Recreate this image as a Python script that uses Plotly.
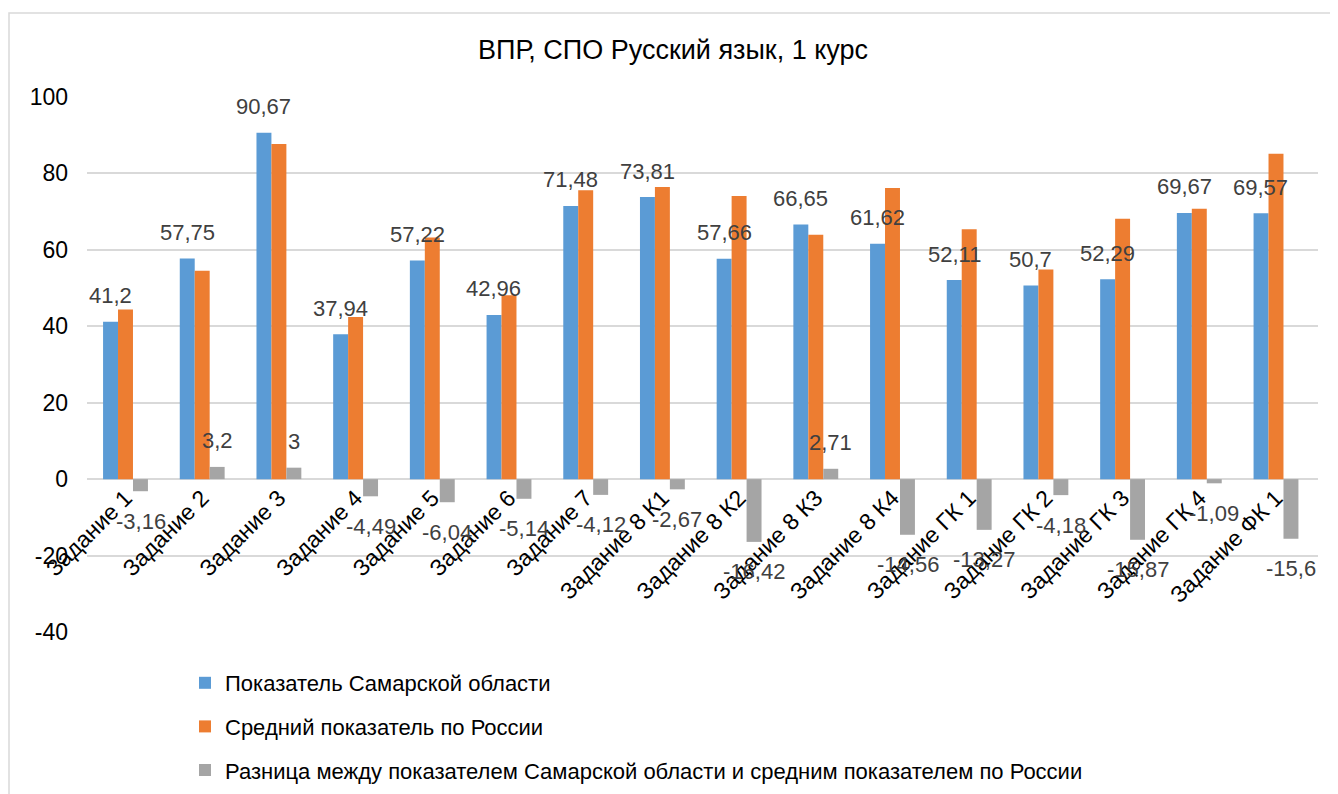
import plotly.graph_objects as go

categories = ['Задание 1', 'Задание 2', 'Задание 3', 'Задание 4', 'Задание 5', 'Задание 6',
              'Задание 7', 'Задание 8 К1', 'Задание 8 К2', 'Задание 8 К3', 'Задание 8 К4',
              'Задание ГК 1', 'Задание ГК 2', 'Задание ГК 3', 'Задание ГК 4', 'Задание ФК 1']
samara = [41.2, 57.75, 90.67, 37.94, 57.22, 42.96, 71.48, 73.81, 57.66, 66.65, 61.62,
          52.11, 50.7, 52.29, 69.67, 69.57]
russia = [44.36, 54.55, 87.67, 42.43, 63.26, 48.10, 75.60, 76.48, 74.08, 63.94, 76.18,
          65.38, 54.88, 68.16, 70.76, 85.17]
diff = [-3.16, 3.2, 3, -4.49, -6.04, -5.14, -4.12, -2.67, -16.42, 2.71, -14.56,
        -13.27, -4.18, -15.87, -1.09, -15.6]
y_ticks = [-40, -20, 0, 20, 40, 60, 80, 100]
y_ticktext = ['-40', '-20', '0', '20', '40', '60', '80', '100']

names = ['Показатель Самарской области',
         'Средний показатель по России',
         'Разница между показателем Самарской области и средним показателем по России']
colors = ['#5B9BD5', '#ED7D31', '#A5A5A5']

# страница имеет отступ body 8px, поэтому всё смещено на 8px влево/вверх
OFF = 8
W, H = 1338, 794
ML, MR, MT, MB = 87 - OFF, 20 + OFF, 97 - OFF, 162 + OFF
BARGAP = 0.415
ncat = len(categories)
pw = W - ML - MR
ph = H - MT - MB
bar_w = pw / ncat * (1 - BARGAP) / 3


def fmt(v):
    return ('%g' % v).replace('.', ',')


fig = go.Figure()
for i, (name, vals) in enumerate(zip(names, [samara, russia, diff])):
    fig.add_trace(go.Bar(x=categories, y=vals, name=name, marker=dict(color=colors[i], line=dict(width=0)),
                         legendgroup='g%d' % i, hoverinfo='y'))

label_font = dict(family='Liberation Sans, Arial', size=22, color='#404040')
annotations = []
for c, v in zip(categories, samara):
    annotations.append(dict(x=c, y=v, xref='x', yref='y', text=fmt(v), showarrow=False,
                            xshift=-bar_w, yshift=26, font=label_font))
for c, v in zip(categories, diff):
    annotations.append(dict(x=c, y=v, xref='x', yref='y', text=fmt(v), showarrow=False,
                            xshift=bar_w, yshift=26 if v > 0 else -30, font=label_font))

fig.update_layout(
    width=W, height=H,
    margin=dict(l=ML, r=MR, t=MT, b=MB, autoexpand=False),
    paper_bgcolor='white', plot_bgcolor='white',
    barmode='group', bargap=BARGAP, bargroupgap=0,
    font=dict(family='Liberation Sans, Arial', size=22, color='#000000'),
    title=dict(text='ВПР, СПО Русский язык, 1 курс', x=(673 - OFF) / W, xref='container',
               xanchor='center', y=1 - (50 - OFF) / H, yanchor='middle',
               font=dict(size=27, color='#000000')),
    xaxis=dict(anchor='free', position=40 / 140, tickangle=-45, showline=False, showgrid=False,
               ticks='', automargin=False, tickfont=dict(size=23, color='#000000')),
    yaxis=dict(range=[-40, 100], tickvals=y_ticks, ticktext=y_ticktext, domain=[0, 1],
               showgrid=True, gridcolor='#D9D9D9', gridwidth=1.5, zeroline=True,
               zerolinecolor='#D9D9D9', zerolinewidth=1.5, showline=False, ticks='',
               automargin=False, ticklabelstandoff=18, tickfont=dict(size=23, color='#000000')),
    legend=dict(orientation='v', x=(185 - OFF - ML) / pw, y=(H - MB - (662 - OFF)) / ph,
                xanchor='left', yanchor='top', traceorder='grouped', tracegroupgap=12,
                font=dict(size=22, color='#000000'), itemwidth=30),
    annotations=annotations,
    shapes=[dict(type='rect', xref='paper', yref='paper',
                 x0=(1 - ML) / pw, x1=(W + 5 - ML) / pw,
                 y0=(H - MB - (H + 5)) / ph, y1=(H - MB - (13 - OFF)) / ph,
                 line=dict(color='#D9D9D9', width=1.5), layer='below')],
)

fig.write_html('out.html')
